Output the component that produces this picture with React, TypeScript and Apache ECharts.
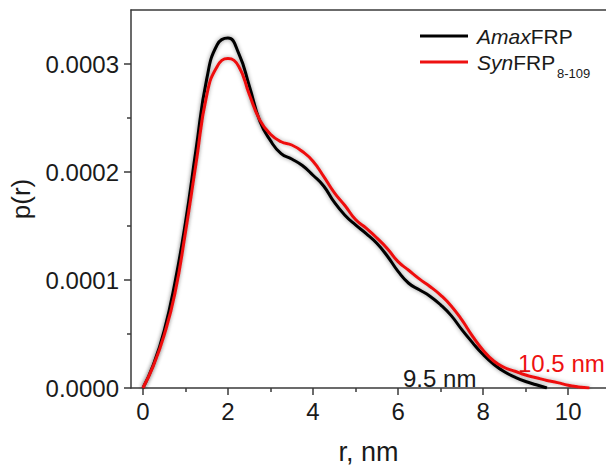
import React, { useEffect, useRef } from "react";
import * as echarts from "echarts";

// AmaxFRP: r (nm) and p(r)
const amaxR = [0, 0.25, 0.5, 0.75, 1.0, 1.25, 1.5, 1.75, 2.0, 2.25, 2.5, 2.75, 3.0, 3.25, 3.5, 3.75, 4.0, 4.25, 4.5, 4.75, 5.0, 5.25, 5.5, 5.75, 6.0, 6.25, 6.5, 6.75, 7.0, 7.25, 7.5, 7.75, 8.0, 8.25, 8.5, 8.75, 9.0, 9.25, 9.5];
const amaxP = [0, 0.22e-4, 0.53e-4, 0.97e-4, 1.53e-4, 2.21e-4, 2.86e-4, 3.18e-4, 3.24e-4, 3.10e-4, 2.80e-4, 2.47e-4, 2.29e-4, 2.17e-4, 2.12e-4, 2.06e-4, 1.97e-4, 1.87e-4, 1.72e-4, 1.60e-4, 1.51e-4, 1.43e-4, 1.34e-4, 1.22e-4, 1.08e-4, 0.97e-4, 0.91e-4, 0.85e-4, 0.77e-4, 0.67e-4, 0.54e-4, 0.42e-4, 0.31e-4, 0.22e-4, 0.15e-4, 0.10e-4, 0.06e-4, 0.03e-4, 0];

// SynFRP 8-109
const synR = [0, 0.25, 0.5, 0.75, 1.0, 1.25, 1.5, 1.75, 2.0, 2.25, 2.5, 2.75, 3.0, 3.25, 3.5, 3.75, 4.0, 4.25, 4.5, 4.75, 5.0, 5.25, 5.5, 5.75, 6.0, 6.25, 6.5, 6.75, 7.0, 7.25, 7.5, 7.75, 8.0, 8.25, 8.5, 8.75, 9.0, 9.25, 9.5, 9.75, 10.0, 10.25, 10.5];
const synP = [0, 0.21e-4, 0.49e-4, 0.87e-4, 1.44e-4, 2.08e-4, 2.71e-4, 2.98e-4, 3.05e-4, 2.98e-4, 2.72e-4, 2.48e-4, 2.35e-4, 2.28e-4, 2.25e-4, 2.19e-4, 2.10e-4, 1.96e-4, 1.81e-4, 1.69e-4, 1.56e-4, 1.48e-4, 1.39e-4, 1.29e-4, 1.17e-4, 1.09e-4, 1.01e-4, 0.94e-4, 0.86e-4, 0.76e-4, 0.63e-4, 0.48e-4, 0.35e-4, 0.25e-4, 0.19e-4, 0.155e-4, 0.12e-4, 0.095e-4, 0.07e-4, 0.05e-4, 0.025e-4, 0.01e-4, 0];

const xMajor = [0, 2, 4, 6, 8, 10];
const xMinor = [1, 3, 5, 7, 9];
const yMajor = [0, 0.0001, 0.0002, 0.0003];
const yMinor = [0.00005, 0.00015, 0.00025];

const seriesNames = ["AmaxFRP", "SynFRP8-109"];
const endLabels = ["9.5 nm", "10.5 nm"];

const FONT = "'Liberation Sans', Arial, sans-serif";
const AX = "#3a3a3a";
const TXT = "#1a1a1a";
const RED = "#ee1111";

export default function App() {
  const ref = useRef<HTMLDivElement>(null);
  useEffect(() => {
    document.body.style.margin = "0";
    const chart = echarts.init(ref.current!, null, { renderer: "svg" });
    const xMin = -0.28;
    const xMax = 10.89;
    const yMin = 0;
    const yMax = 0.00035;
    const lineAxis = { show: true, onZero: false, lineStyle: { color: AX, width: 1.5 } };
    chart.setOption({
      animation: false,
      grid: { left: 129, top: 10, right: 0, bottom: 72, containLabel: false },
      xAxis: [
        {
          type: "value", min: xMin, max: xMax, position: "bottom",
          axisLine: lineAxis,
          splitLine: { show: false },
          axisTick: { show: true, length: 7, inside: false, customValues: xMajor, lineStyle: { color: AX, width: 1.5 } },
          axisLabel: { customValues: xMajor, fontSize: 24, fontFamily: FONT, color: TXT, margin: 11 },
          name: "r, nm", nameLocation: "middle", nameGap: 50,
          nameTextStyle: { fontSize: 27, fontFamily: FONT, color: TXT },
        },
        {
          type: "value", min: xMin, max: xMax, position: "bottom",
          axisLine: { show: false, onZero: false },
          splitLine: { show: false },
          axisTick: { show: true, length: 4, customValues: xMinor, lineStyle: { color: AX, width: 1.5 } },
          axisLabel: { show: false },
        },
        {
          type: "value", min: xMin, max: xMax, position: "top",
          axisLine: lineAxis,
          splitLine: { show: false },
          axisTick: { show: false },
          axisLabel: { show: false },
        },
      ],
      yAxis: [
        {
          type: "value", min: yMin, max: yMax, position: "left",
          axisLine: lineAxis,
          splitLine: { show: false },
          axisTick: { show: true, length: 7, customValues: yMajor, lineStyle: { color: AX, width: 1.5 } },
          axisLabel: {
            customValues: yMajor, fontSize: 24, fontFamily: FONT, color: TXT, margin: 12,
            formatter: (v: number) => v.toFixed(4),
          },
          name: "p(r)", nameLocation: "middle", nameGap: 97, nameRotate: 90,
          nameTextStyle: { fontSize: 26, fontFamily: FONT, color: TXT },
        },
        {
          type: "value", min: yMin, max: yMax, position: "left",
          axisLine: { show: false, onZero: false },
          splitLine: { show: false },
          axisTick: { show: true, length: 4, customValues: yMinor, lineStyle: { color: AX, width: 1.5 } },
          axisLabel: { show: false },
        },
      ],
      series: [
        {
          name: seriesNames[0], type: "line", xAxisIndex: 0, yAxisIndex: 0,
          data: amaxR.map((r, i) => [r, amaxP[i]]),
          smooth: 0.5, showSymbol: false, z: 3,
          lineStyle: { color: "#000", width: 3, shadowColor: "rgba(0,0,0,0.45)", shadowBlur: 4 },
        },
        {
          name: seriesNames[1], type: "line", xAxisIndex: 0, yAxisIndex: 0,
          data: synR.map((r, i) => [r, synP[i]]),
          smooth: 0.5, showSymbol: false, z: 4,
          lineStyle: { color: RED, width: 3, shadowColor: "rgba(0,0,0,0.35)", shadowBlur: 4 },
        },
      ],
      graphic: [
        { type: "line", shape: { x1: 420, y1: 36, x2: 468, y2: 36 }, style: { stroke: "#000", lineWidth: 3 } },
        { type: "line", shape: { x1: 420, y1: 62, x2: 468, y2: 62 }, style: { stroke: RED, lineWidth: 3 } },
        {
          type: "text", x: 477, y: 36,
          style: {
            text: "{i|Amax}{n|FRP}", verticalAlign: "middle", fill: TXT,
            rich: {
              i: { fontStyle: "italic", fontSize: 21, fontFamily: FONT, fill: TXT },
              n: { fontSize: 21, fontFamily: FONT, fill: TXT },
            },
          },
        },
        {
          type: "text", x: 477, y: 62,
          style: {
            text: "{i|Syn}{n|FRP}", verticalAlign: "middle", fill: TXT,
            rich: {
              i: { fontStyle: "italic", fontSize: 21, fontFamily: FONT, fill: TXT },
              n: { fontSize: 21, fontFamily: FONT, fill: TXT },
            },
          },
        },
        {
          type: "text", x: 557, y: 73,
          style: { text: "8-109", verticalAlign: "middle", fontSize: 13, fontFamily: FONT, fill: TXT },
        },
        {
          type: "text", x: 403, y: 378,
          style: { text: endLabels[0], verticalAlign: "middle", fontSize: 24, fontFamily: FONT, fill: TXT },
        },
        {
          type: "text", x: 518, y: 363,
          style: { text: endLabels[1], verticalAlign: "middle", fontSize: 24, fontFamily: FONT, fill: RED },
        },
      ],
    });
    return () => chart.dispose();
  }, []);
  return <div ref={ref} style={{ width: 606, height: 470 }} />;
}
